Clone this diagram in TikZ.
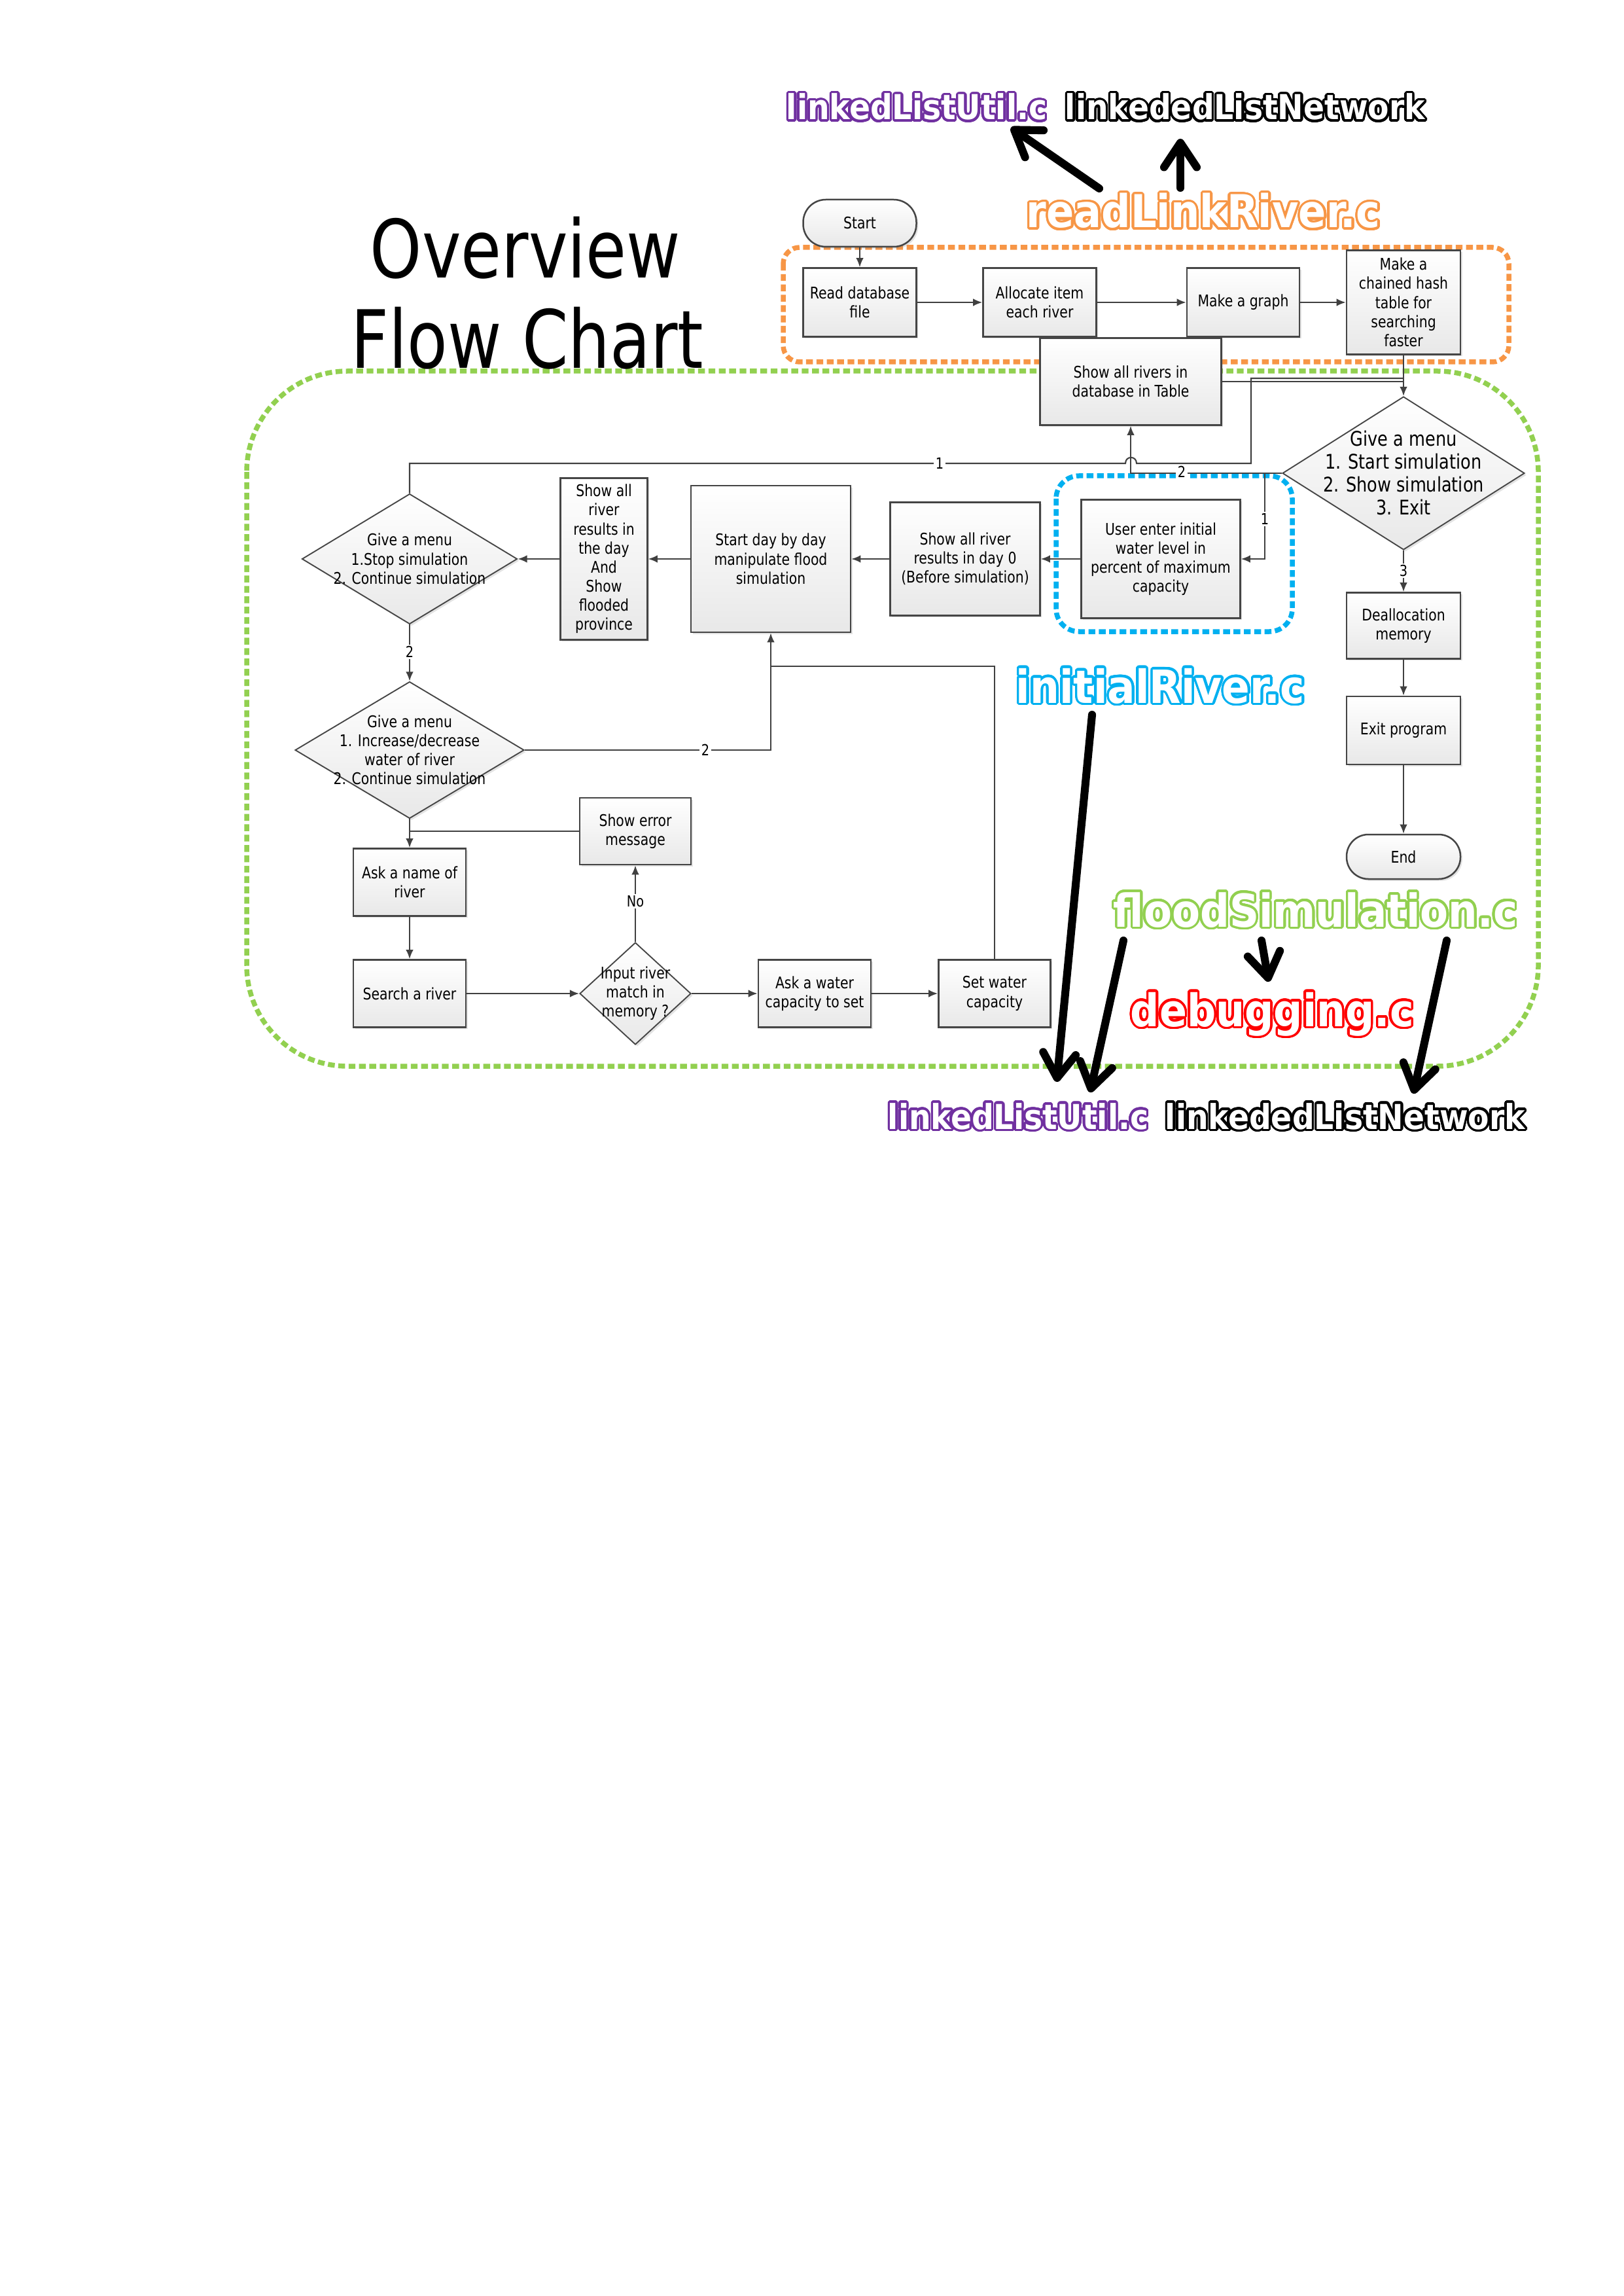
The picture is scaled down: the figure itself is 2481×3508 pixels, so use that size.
\documentclass[tikz,border=0pt]{standalone}
\usepackage{fontspec}
\usepackage[copies]{contour}
\usetikzlibrary{shapes.geometric,arrows.meta,shadows}
\setmainfont{DejaVu Sans}
\newfontfamily\boxfont[FakeStretch=0.83]{DejaVu Sans}
\newfontfamily\titlefont[FakeStretch=0.82]{DejaVu Sans}
\newfontfamily\tagfont[FakeStretch=0.9]{DejaVu Sans}
\definecolor{cpurple}{HTML}{7030A0}
\definecolor{corange}{HTML}{F79646}
\definecolor{cblue}{HTML}{00B0F0}
\definecolor{cgreen}{HTML}{92D050}
\definecolor{cred}{HTML}{FF0000}
\definecolor{cline}{HTML}{404040}
\definecolor{cbox}{HTML}{454545}
\contourlength{0.85pt}
\contournumber{32}
\newcommand\tagtext[3]{{\tagfont\bfseries\fontsize{#1}{#1}\selectfont\contour{#2}{#3}}}
\tikzset{
  wh/.style 2 args={minimum width={#1*0.24pt}, minimum height={#2*0.24pt}},
  box/.style={draw=cbox, line width=0.6pt, top color=white, bottom color=black!9,
    align=center, inner sep=1pt, font=\boxfont\fontsize{5.9}{7}\selectfont,
    drop shadow={shadow xshift=0.7pt, shadow yshift=-0.7pt, opacity=0.22}},
  term/.style={box, rounded corners=8.3pt},
  dia/.style={diamond, draw=cbox, line width=0.45pt, top color=white, bottom color=black!9,
    inner sep=0pt, drop shadow={shadow xshift=0.7pt, shadow yshift=-0.7pt, opacity=0.22}},
  dtext/.style={align=center, inner sep=0pt, font=\boxfont\fontsize{5.9}{7}\selectfont},
  conn/.style={draw=cline, line width=0.5pt},
  arr/.style={conn, -{Latex[length=3.4pt,width=2.8pt]}},
  lab/.style={fill=white, inner sep=0.6pt, font=\boxfont\fontsize{5.6}{6}\selectfont},
  cont/.style={line width=1.8pt, dash pattern=on 2.5pt off 1.3pt},
  tag/.style={anchor=base west, inner sep=0pt, text=white},
  big/.style={line width=2.9pt, black, line cap=round,
    -{Straight Barb[length=9pt,width=12pt,round]}},
}
\begin{document}
\begin{tikzpicture}[x=0.24pt, y=-0.24pt]
\useasboundingbox (0,0) rectangle (2481,3508);
\fill[white] (0,0) rectangle (2481,3508);

% containers
\draw[cont, draw=cgreen, rounded corners=37pt] (377,567) rectangle (2351,1629);
\draw[cont, draw=corange, rounded corners=6pt] (1197,378) rectangle (2306,553);
\draw[cont, draw=cblue, rounded corners=8.4pt] (1614,727) rectangle (1975,965);

% title
\node[anchor=base, inner sep=0pt, font=\titlefont\fontsize{29.5}{33}\selectfont] (tOver) at (803,425) {Overview};
\node[anchor=base, inner sep=0pt, font=\titlefont\fontsize{29.5}{33}\selectfont] (tFlow) at (806,563) {Flow Chart};

% nodes
\node[term, wh={173}{72}] (nStart) at (1314,341) {Start};
\node[box, wh={173}{105}] (nRead) at (1314,462) {Read database\\file};
\node[box, wh={173}{105}] (nAlloc) at (1589,462) {Allocate item\\each river};
\node[box, wh={172}{105}] (nGraph) at (1900,462) {Make a graph};
\node[box, wh={174}{159}] (nHash) at (2145,462) {Make a\\chained hash\\table for\\searching\\faster};
\node[box, wh={277}{133}] (nShowAll) at (1728,583) {Show all rivers in\\database in Table};
\node[dia, wh={370}{234},
  label={[dtext, font=\boxfont\fontsize{7.4}{8.4}\selectfont]center:{Give a menu\\1. Start simulation\\2. Show simulation\\3. Exit}}] (dMain) at (2145,723) {};
\node[box, wh={243}{181}] (nUser) at (1774,854) {User enter initial\\water level in\\percent of maximum\\capacity};
\node[box, wh={229}{173}] (nDay0) at (1475,854) {Show all river\\results in day 0\\(Before simulation)};
\node[box, wh={244}{224}] (nStartDay) at (1178,854) {Start day by day\\manipulate flood\\simulation};
\node[box, wh={133}{247}] (nResults) at (923,854) {Show all\\river\\results in\\the day\\And\\Show\\flooded\\province};
\node[dia, wh={329}{199},
  label={[dtext]center:{Give a menu\\1.Stop simulation\\2. Continue simulation}}] (dStop) at (626,854) {};
\node[dia, wh={350}{209},
  label={[dtext]center:{Give a menu\\1. Increase/decrease\\water of river\\2. Continue simulation}}] (dInc) at (626,1146) {};
\node[box, wh={170}{102}] (nErr) at (971,1270) {Show error\\message};
\node[box, wh={172}{103}] (nAsk) at (626,1348) {Ask a name of\\river};
\node[box, wh={172}{103}] (nSearch) at (626,1518) {Search a river};
\node[dia, wh={170}{156},
  label={[dtext]center:{Input river\\match in\\memory ?}}] (dIn) at (971,1518) {};
\node[box, wh={172}{103}] (nAskW) at (1245,1518) {Ask a water\\capacity to set};
\node[box, wh={171}{103}] (nSetW) at (1520,1518) {Set water\\capacity};
\node[box, wh={174}{101}] (nDealloc) at (2145,956) {Deallocation\\memory};
\node[box, wh={174}{104}] (nExit) at (2145,1116) {Exit program};
\node[term, wh={174}{68}, rounded corners=8pt] (nEnd) at (2145,1309) {End};

% junction coordinates
\coordinate (jTop) at (2145,578);
\coordinate (jRight) at (1912,578);
\coordinate (jRightLow) at (1912,708);
\coordinate (hopL) at (1720,708);
\coordinate (hopR) at (1737,708);
\coordinate (b1) at (1933,723);
\coordinate (j2) at (1178,1018);
\coordinate (j3) at (626,1270);

% connectors
\draw[arr] (nStart) -- (nRead);
\draw[arr] (nRead) -- (nAlloc);
\draw[arr] (nAlloc) -- (nGraph);
\draw[arr] (nGraph) -- (nHash);
\draw[arr] (nHash) -- (dMain);
\draw[conn] (nShowAll.east) -- (nShowAll.east -| jTop);
\draw[conn] (dStop.north) |- (hopL) .. controls (1720,696) and (1737,696) .. (hopR) -- (jRightLow) -- (jRight) -- (jTop);
\draw[arr] (dMain.west) -| (nShowAll.south);
\draw[arr] (b1) |- (nUser.east);
\draw[arr] (nUser) -- (nDay0);
\draw[arr] (nDay0) -- (nStartDay);
\draw[arr] (nStartDay) -- (nResults);
\draw[arr] (nResults) -- (dStop);
\draw[arr] (dStop.south) -- (dInc.north);
\draw[arr] (dInc.east) -| (nStartDay.south);
\draw[conn] (nSetW.north) |- (j2);
\draw[arr] (dInc.south) -- (nAsk.north);
\draw[conn] (nErr.west) -- (j3);
\draw[arr] (nAsk) -- (nSearch);
\draw[arr] (nSearch) -- (dIn);
\draw[arr] (dIn.north) -- (nErr.south);
\draw[arr] (dIn) -- (nAskW);
\draw[arr] (nAskW) -- (nSetW);
\draw[arr] (dMain.south) -- (nDealloc.north);
\draw[arr] (nDealloc) -- (nExit);
\draw[arr] (nExit) -- (nEnd);

% connector labels
\node[lab] (l1a) at (1436,708) {1};
\node[lab] (l2a) at (1806,721) {2};
\node[lab] (l1b) at (1933,793) {1};
\node[lab] (l3) at (2145,872) {3};
\node[lab] (l2b) at (626,996) {2};
\node[lab] (l2c) at (1078,1146) {2};
\node[lab] (lNo) at (971,1377) {No};

% file tags
\node[tag] (tLLU1) at (1201,183) {\tagtext{12.6}{cpurple}{linkedListUtil.c}};
\node[tag] (tLLN1) at (1627,183) {\tagtext{12.6}{black}{linkededListNetwork}};
\node[tag] (tRLR) at (1568,348) {\tagtext{16.6}{corange}{readLinkRiver.c}};
\node[tag] (tIR) at (1552,1074) {\tagtext{16.8}{cblue}{initialRiver.c}};
\node[tag] (tFS) at (1701,1416) {\tagtext{16.7}{cgreen}{floodSimulation.c}};
\node[tag] (tDB) at (1727,1568) {\tagtext{16.5}{cred}{debugging.c}};
\node[tag] (tLLU2) at (1356,1725) {\tagtext{12.6}{cpurple}{linkedListUtil.c}};
\node[tag] (tLLN2) at (1780,1725) {\tagtext{12.6}{black}{linkededListNetwork}};

% big arrows
\coordinate (a1s) at (1680,288); \coordinate (a1e) at (1545,195);
\coordinate (a2s) at (1804,287); \coordinate (a2e) at (1804,212);
\coordinate (a3s) at (1669,1092); \coordinate (a3e) at (1615,1653);
\coordinate (a4s) at (1717,1437); \coordinate (a4e) at (1666,1669);
\coordinate (a5s) at (1928,1437); \coordinate (a5e) at (1939,1500);
\coordinate (a6s) at (2211,1437); \coordinate (a6e) at (2160,1671);
\draw[big] (a1s) -- (a1e);
\draw[big] (a2s) -- (a2e);
\draw[big] (a3s) -- (a3e);
\draw[big] (a4s) -- (a4e);
\draw[big] (a5s) -- (a5e);
\draw[big] (a6s) -- (a6e);
\end{tikzpicture}
\end{document}
